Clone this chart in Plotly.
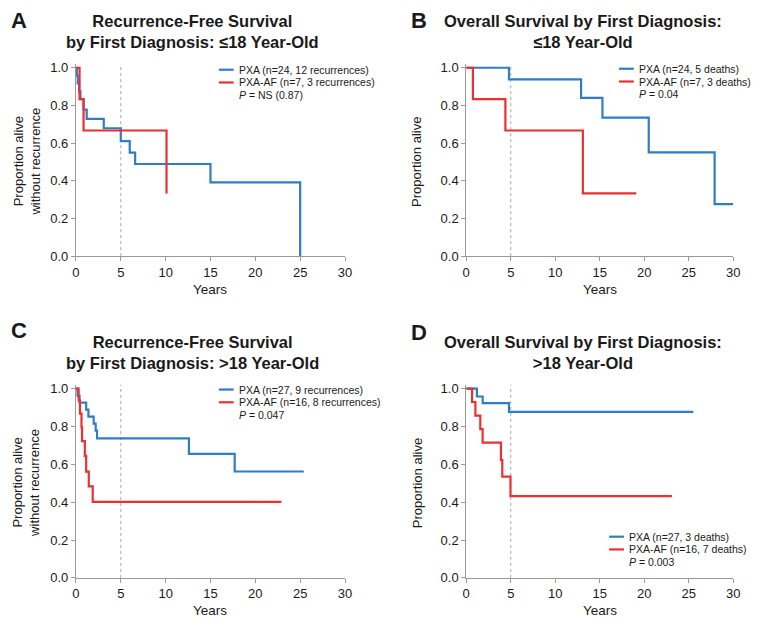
import plotly.graph_objects as go

W, H = 762, 632
BLUE = "#2f7dc4"
RED = "#ec2f2f"
AXIS = "#9a9a9a"
TXT = "#1a1a1a"
FONT = "Liberation Sans, Arial, Helvetica, sans-serif"

# ---------------- data (years, survival proportion) ----------------
a_pxa_years = [0, 0.1, 0.2, 0.35, 0.5, 0.85, 1.2, 3.1, 5.0, 6.0, 6.6, 15.0, 25.0]
a_pxa_surv = [1.0, 0.958, 0.917, 0.875, 0.833, 0.778, 0.729, 0.679, 0.611, 0.550, 0.489, 0.391, 0.0]
a_af_years = [0, 0.4, 0.85, 10.1]
a_af_surv = [1.0, 0.833, 0.667, 0.333]

b_pxa_years = [0, 4.8, 12.9, 15.3, 20.5, 27.9, 30.0]
b_pxa_surv = [1.0, 0.938, 0.840, 0.735, 0.551, 0.276, 0.276]
b_af_years = [0, 0.75, 4.4, 13.1, 19.1]
b_af_surv = [1.0, 0.833, 0.667, 0.333, 0.333]

c_pxa_years = [0, 0.18, 0.4, 1.14, 1.39, 1.98, 2.2, 2.35, 12.6, 17.7, 25.4]
c_pxa_surv = [1.0, 0.963, 0.926, 0.889, 0.852, 0.815, 0.778, 0.737, 0.655, 0.562, 0.562]
c_af_years = [0, 0.3, 0.45, 0.62, 0.68, 0.99, 1.14, 1.43, 1.87, 22.9]
c_af_surv = [1.0, 0.938, 0.868, 0.795, 0.722, 0.644, 0.561, 0.483, 0.401, 0.401]

d_pxa_years = [0, 1.2, 1.85, 4.8, 25.5]
d_pxa_surv = [1.0, 0.958, 0.923, 0.877, 0.877]
d_af_years = [0, 0.66, 1.03, 1.58, 1.84, 3.9, 4.05, 4.97, 23.1]
d_af_surv = [1.0, 0.929, 0.857, 0.786, 0.714, 0.622, 0.535, 0.432, 0.432]

panel_letters = ["A", "B", "C", "D"]
titles_line1 = ["Recurrence-Free Survival", "Overall Survival by First Diagnosis:",
                "Recurrence-Free Survival", "Overall Survival by First Diagnosis:"]
titles_line2 = ["by First Diagnosis: ≤18 Year-Old", "≤18 Year-Old",
                "by First Diagnosis: >18 Year-Old", ">18 Year-Old"]
legend_pxa = ["PXA (n=24, 12 recurrences)", "PXA (n=24, 5 deaths)",
              "PXA (n=27, 9 recurrences)", "PXA (n=27, 3 deaths)"]
legend_af = ["PXA-AF (n=7, 3 recurrences)", "PXA-AF (n=7, 3 deaths)",
             "PXA-AF (n=16, 8 recurrences)", "PXA-AF (n=16, 7 deaths)"]
p_values = ["NS (0.87)", "0.04", "0.047", "0.003"]
y_titles = ["Proportion alive<br>without recurrence", "Proportion alive",
            "Proportion alive<br>without recurrence", "Proportion alive"]
x_title = "Years"
x_ticks = [0, 5, 10, 15, 20, 25, 30]
y_ticks = [0.0, 0.2, 0.4, 0.6, 0.8, 1.0]
landmark_year = 5

series = [
    (a_pxa_years, a_pxa_surv, a_af_years, a_af_surv),
    (b_pxa_years, b_pxa_surv, b_af_years, b_af_surv),
    (c_pxa_years, c_pxa_surv, c_af_years, c_af_surv),
    (d_pxa_years, d_pxa_surv, d_af_years, d_af_surv),
]

# ---------------- layout geometry (pixels) ----------------
YMAX = 1.02
geo = [
    dict(x0=73, x1=346, yz=257, ppu=192, lx=218, ly=[67, 80, 93], tx=191, ty=28, lt=(15, 17), ytx=23, xty=291),
    dict(x0=469, x1=740, yz=257, ppu=192, lx=624, ly=[66, 79, 92], tx=587, ty=28, lt=(421, 17), ytx=419, xty=291),
    dict(x0=73, x1=346, yz=585, ppu=193, lx=218, ly=[393, 406, 419], tx=191, ty=355, lt=(15, 333), ytx=23, xty=618),
    dict(x0=469, x1=740, yz=585, ppu=193, lx=614, ly=[543, 556, 569], tx=587, ty=355, lt=(421, 335), ytx=419, xty=618),
]


def px(x):
    return x / W


def py(y):
    return 1 - y / H


fig = go.Figure()
layout = dict(
    width=W, height=H, margin=dict(l=0, r=0, t=0, b=0),
    paper_bgcolor="white", plot_bgcolor="white",
    font=dict(family=FONT, color=TXT), showlegend=False,
)
annotations = []
shapes = []

for i, g in enumerate(geo):
    n = "" if i == 0 else str(i + 1)
    xa, ya = "x" + n, "y" + n
    top_px = g["yz"] - YMAX * g["ppu"]
    layout["xaxis" + n] = dict(
        domain=[px(g["x0"]), px(g["x1"])], range=[0, 30], tickvals=x_ticks,
        showline=True, linecolor=AXIS, linewidth=1, ticks="outside", tickcolor=AXIS,
        ticklen=4, showgrid=False, zeroline=False, anchor=ya,
        tickfont=dict(size=13, color=TXT, family=FONT),
    )
    layout["yaxis" + n] = dict(
        domain=[py(g["yz"]), py(top_px)], range=[0, YMAX], tickvals=y_ticks,
        tickformat=".1f", showline=True, linecolor=AXIS, linewidth=1,
        ticks="outside", tickcolor=AXIS, ticklen=4, showgrid=False,
        zeroline=False, anchor=xa, tickfont=dict(size=13, color=TXT, family=FONT),
    )
    shapes.append(dict(type="line", xref=xa, yref=ya + " domain", x0=landmark_year,
                       x1=landmark_year, y0=0, y1=1,
                       line=dict(color="#a8a8a8", width=1, dash="dot"), layer="below"))
    t1, s1, t2, s2 = series[i]
    fig.add_trace(go.Scatter(x=t1, y=s1, mode="lines", line_shape="hv",
                             line=dict(color=BLUE, width=2.2), xaxis=xa, yaxis=ya,
                             name=legend_pxa[i], hoverinfo="skip"))
    fig.add_trace(go.Scatter(x=t2, y=s2, mode="lines", line_shape="hv",
                             line=dict(color=RED, width=2.2), xaxis=xa, yaxis=ya,
                             name=legend_af[i], hoverinfo="skip"))
    for row, (col, label) in enumerate([(BLUE, legend_pxa[i]), (RED, legend_af[i])]):
        yy = g["ly"][row]
        shapes.append(dict(type="line", xref="paper", yref="paper",
                           x0=px(g["lx"]), x1=px(g["lx"] + 15), y0=py(yy), y1=py(yy),
                           line=dict(color=col, width=2.2)))
        annotations.append(dict(x=px(g["lx"] + 18), y=py(yy), xref="paper", yref="paper",
                                text=label, showarrow=False, xanchor="left", yanchor="middle",
                                font=dict(size=10.5, color=TXT, family=FONT)))
    annotations.append(dict(x=px(g["lx"] + 18), y=py(g["ly"][2]), xref="paper", yref="paper",
                            text="<i>P</i> = " + p_values[i], showarrow=False,
                            xanchor="left", yanchor="middle",
                            font=dict(size=10.5, color=TXT, family=FONT)))
    annotations.append(dict(x=px(g["tx"]), y=py(g["ty"]), xref="paper", yref="paper",
                            text="<b>" + titles_line1[i] + "<br>" + titles_line2[i] + "</b>",
                            showarrow=False, xanchor="center", yanchor="middle",
                            font=dict(size=16.5, color=TXT, family=FONT)))
    annotations.append(dict(x=px(g["lt"][0]), y=py(g["lt"][1]), xref="paper", yref="paper",
                            text="<b>" + panel_letters[i] + "</b>", showarrow=False,
                            xanchor="center", yanchor="middle",
                            font=dict(size=22, color=TXT, family=FONT)))
    annotations.append(dict(x=px((g["x0"] + g["x1"]) / 2), y=py(g["xty"]), xref="paper",
                            yref="paper", text=x_title, showarrow=False,
                            xanchor="center", yanchor="middle",
                            font=dict(size=13.5, color=TXT, family=FONT)))
    annotations.append(dict(x=px(g["ytx"]), y=py(g["yz"] - 0.5 * g["ppu"]), xref="paper",
                            yref="paper", text=y_titles[i], showarrow=False,
                            textangle=-90, xanchor="center", yanchor="middle",
                            font=dict(size=13, color=TXT, family=FONT)))

layout["annotations"] = annotations
layout["shapes"] = shapes
fig.update_layout(**layout)
fig.write_html("out.html", config={"displayModeBar": False},
               post_script="document.body.style.margin='0px';")
